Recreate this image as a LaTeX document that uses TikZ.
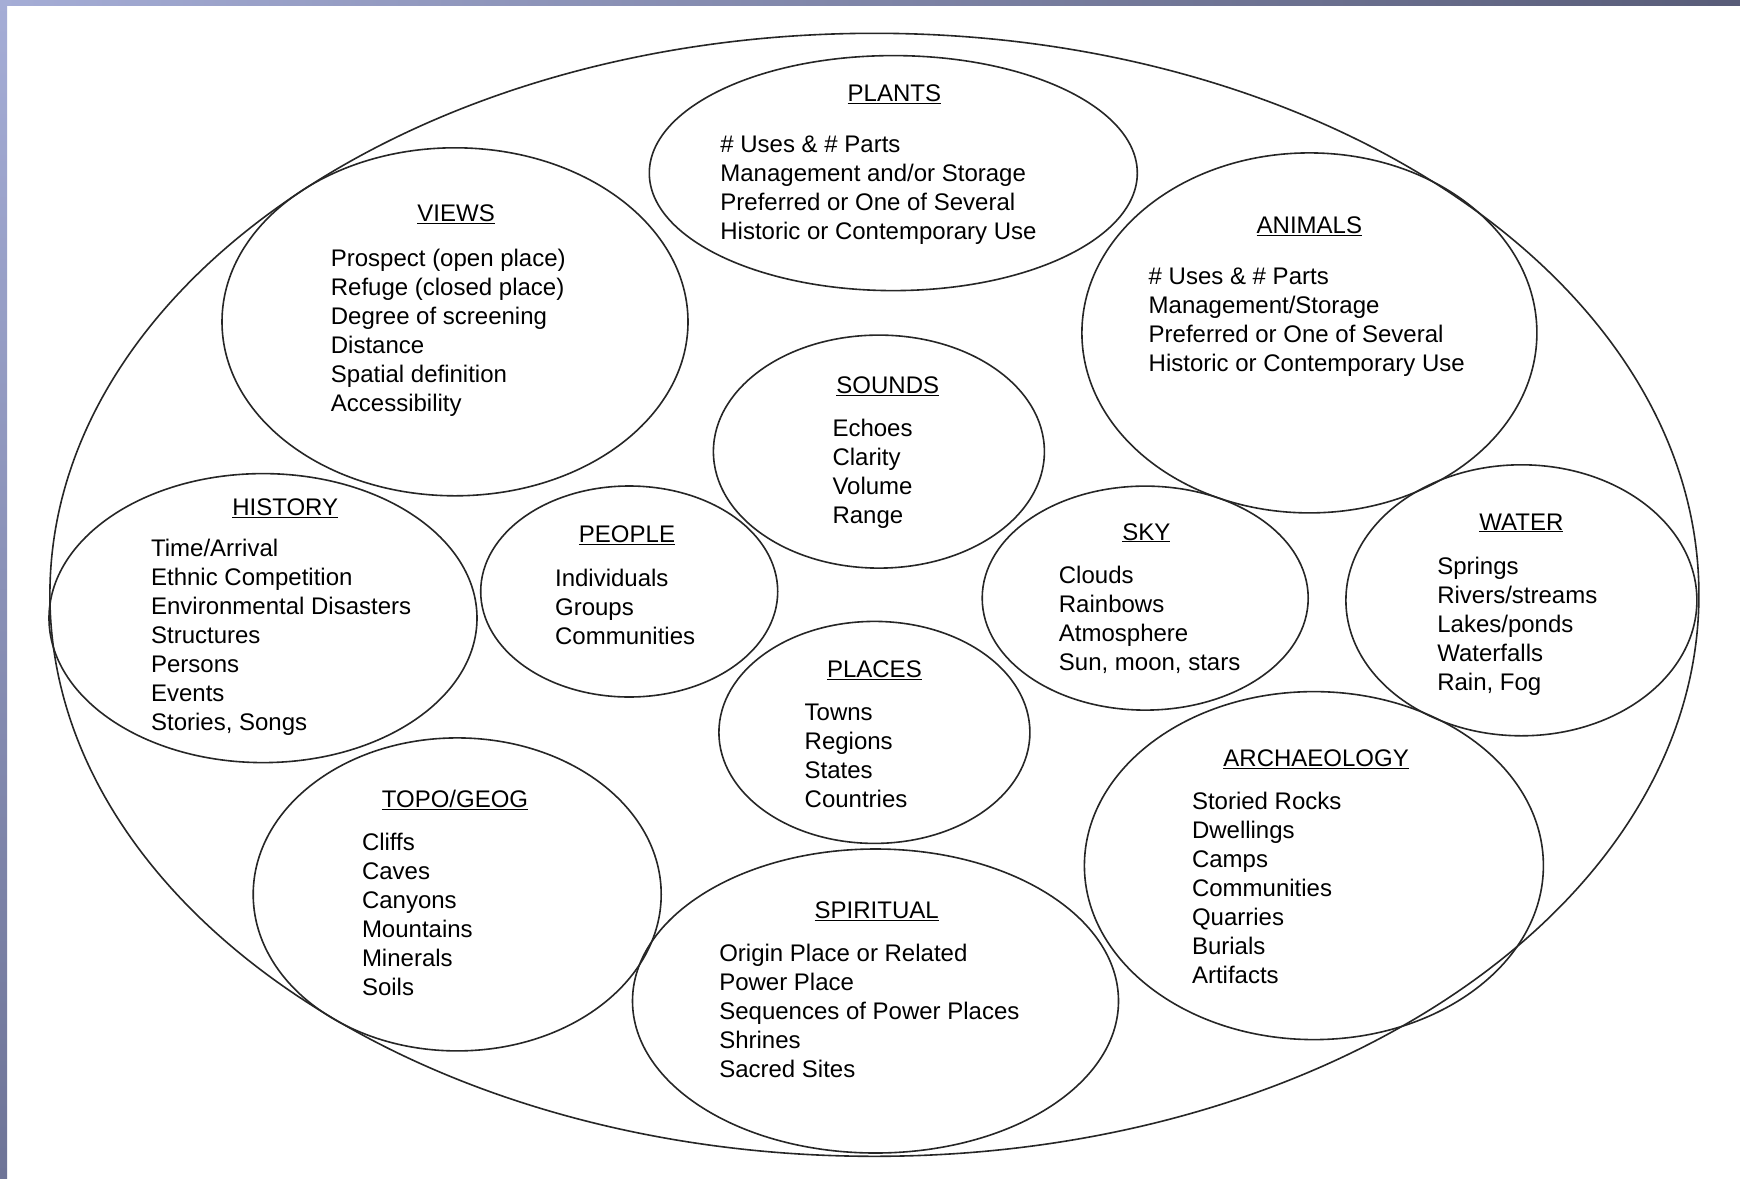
\documentclass[tikz,border=0pt]{standalone}
\usepackage{fontspec}
\setmainfont{Liberation Sans}
\usetikzlibrary{shapes.geometric}

\definecolor{frameLight}{HTML}{A5ADD6}
\definecolor{frameDark}{HTML}{585C78}
\definecolor{frameMid}{HTML}{6E7497}

\tikzset{
  ring/.style={ellipse, draw=black!85, line width=1.6pt, inner sep=0pt, outer sep=0pt},
  heading/.style={anchor=base, inner sep=0pt, font=\fontsize{24pt}{29pt}\selectfont},
  entry/.style={anchor=base west, inner sep=0pt, font=\fontsize{24pt}{29pt}\selectfont},
}

% a heading plus a left-aligned column of entries
\newcommand\topicbox[7]{%
  \node[heading] (#1-title) at (#2,#3) {\underline{#4}};
  \foreach \txt [count=\i] in {#7}
    \node[entry] (#1-\i) at (#5,{#6+(\i-1)*29}) {\txt};
}

\begin{document}
\begin{tikzpicture}[x=1pt,y=-1pt]
\useasboundingbox (0,0) rectangle (1740,1178);
\fill[white] (0,0) rectangle (1740,1178);

% window frame strips
\shade[left color=frameLight, right color=frameDark] (0,0) rectangle (1740,5);
\shade[top color=frameLight, bottom color=frameMid] (0,0) rectangle (7,1178);

% outer boundary
\node[ring, minimum width=1649, minimum height=1123] (outer) at (874.4,594.8) {};

% topic ellipses
\node[ring, minimum width=488, minimum height=235] (plants) at (893.3,173.1) {};
\node[ring, minimum width=466, minimum height=348] (views) at (455,321.8) {};
\node[ring, minimum width=455, minimum height=360] (animals) at (1309.4,332.9) {};
\node[ring, minimum width=331, minimum height=233] (sounds) at (878.9,451.6) {};
\node[ring, minimum width=428, minimum height=289] (history) at (263,618.1) {};
\node[ring, minimum width=297, minimum height=211] (people) at (629.2,591.5) {};
\node[ring, minimum width=326, minimum height=224] (sky) at (1145.2,598.1) {};
\node[ring, minimum width=351, minimum height=271] (water) at (1521.4,600.3) {};
\node[ring, minimum width=311, minimum height=222] (places) at (874.4,732.4) {};
\node[ring, minimum width=408, minimum height=313] (topo) at (457.2,894.4) {};
\node[ring, minimum width=459, minimum height=348] (arch) at (1313.9,865.6) {};
\node[ring, minimum width=486, minimum height=304] (spiritual) at (875.5,1001) {};

% texts
\topicbox{tplants}{894.4}{101.7}{PLANTS}{720.2}{152.8}%
  {\# Uses \& \# Parts, Management and/or Storage, Preferred or One of Several, Historic or Contemporary Use}
\topicbox{tviews}{456.1}{221.6}{VIEWS}{330.7}{266.0}%
  {Prospect (open place), Refuge (closed place), Degree of screening, Distance, Spatial definition, Accessibility}
\topicbox{tanimals}{1309.4}{233.8}{ANIMALS}{1148.5}{284.8}%
  {\# Uses \& \# Parts, Management/Storage, Preferred or One of Several, Historic or Contemporary Use}
\topicbox{tsounds}{887.8}{393.6}{SOUNDS}{832.3}{436.8}%
  {Echoes, Clarity, Volume, Range}
\topicbox{thistory}{285.2}{515.6}{HISTORY}{150.9}{556.7}%
  {Time/Arrival, Ethnic Competition, Environmental Disasters, Structures, Persons, Events, {Stories, Songs}}
\topicbox{tpeople}{627}{542.3}{PEOPLE}{554.9}{586.7}%
  {Individuals, Groups, Communities}
\topicbox{tsky}{1146.3}{540}{SKY}{1058.7}{583.3}%
  {Clouds, Rainbows, Atmosphere, {Sun, moon, stars}}
\topicbox{twater}{1521.4}{530.1}{WATER}{1437.1}{574.4}%
  {Springs, Rivers/streams, Lakes/ponds, Waterfalls, {Rain, Fog}}
\topicbox{tplaces}{874.4}{677.6}{PLACES}{804.5}{720.9}%
  {Towns, Regions, States, Countries}
\topicbox{ttopo}{455}{807.5}{TOPO/GEOG}{361.8}{850.8}%
  {Cliffs, Caves, Canyons, Mountains, Minerals, Soils}
\topicbox{tarch}{1316.1}{766.4}{ARCHAEOLOGY}{1191.8}{809.7}%
  {Storied Rocks, Dwellings, Camps, Communities, Quarries, Burials, Artifacts}
\topicbox{tspiritual}{876.7}{918.5}{SPIRITUAL}{719.1}{961.7}%
  {Origin Place or Related, Power Place, Sequences of Power Places, Shrines, Sacred Sites}
\end{tikzpicture}
\end{document}
